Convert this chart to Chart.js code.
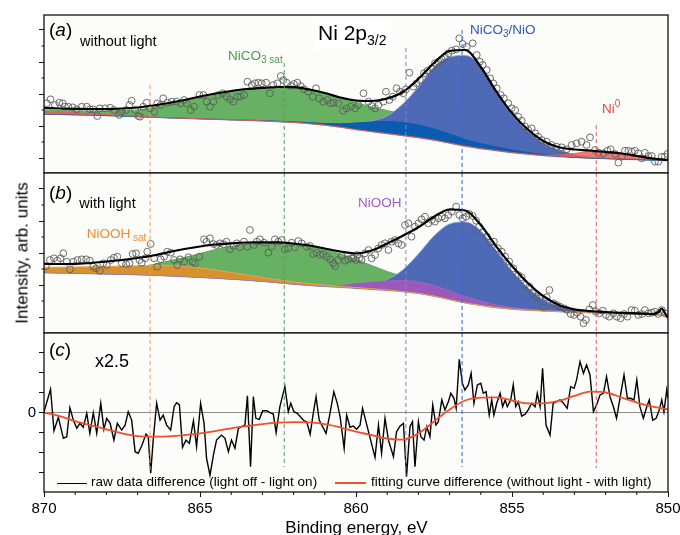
<!DOCTYPE html>
<html><head><meta charset="utf-8">
<script src="https://cdn.jsdelivr.net/npm/chart.js@4.4.1/dist/chart.umd.min.js"></script>
<style>
html,body{margin:0;padding:0;background:#fff;}
#wrap{position:relative;width:680px;height:535px;overflow:hidden;font-family:"Liberation Sans",Arial,sans-serif;color:#000;}
canvas{position:absolute;left:0;}
.lbl{position:absolute;white-space:nowrap;line-height:1;}
.sb{position:relative;}
</style></head><body>
<div id="wrap">
<canvas id="cA" width="680" height="174" style="top:0px"></canvas>
<canvas id="cB" width="680" height="162" style="top:172px"></canvas>
<canvas id="cC" width="680" height="203" style="top:332px"></canvas>

<div class="lbl" style="left:49px;top:20px;font-size:19px">(<i>a</i>)</div>
<div class="lbl" style="left:80px;top:34.4px;font-size:14.5px">without light</div>
<div class="lbl" style="left:315px;top:20px;font-size:21px;background:#fff;padding:2px 4px 6px 3px">Ni 2p<span class="sb" style="font-size:14px;top:5px">3/2</span></div>
<div class="lbl" style="left:228px;top:48.6px;font-size:13.5px;color:#4a9a4a">NiCO<span class="sb" style="font-size:10px;top:3px">3 sat</span></div>
<div class="lbl" style="left:470px;top:23px;font-size:13.5px;color:#2d58c0">NiCO<span class="sb" style="font-size:10px;top:3px">3</span>/NiO</div>
<div class="lbl" style="left:602px;top:102px;font-size:13.5px;color:#e8473b">Ni<span class="sb" style="font-size:10px;top:-6px">0</span></div>

<div class="lbl" style="left:49px;top:183px;font-size:19px">(<i>b</i>)</div>
<div class="lbl" style="left:79.3px;top:196px;font-size:14.5px">with light</div>
<div class="lbl" style="left:86.7px;top:227px;font-size:13.5px;color:#f28a2e">NiOOH<span class="sb" style="font-size:10px;top:3px"> sat</span></div>
<div class="lbl" style="left:358px;top:196.3px;font-size:13.5px;color:#a35cc4">NiOOH</div>

<div class="lbl" style="left:49px;top:339.5px;font-size:19px">(<i>c</i>)</div>
<div class="lbl" style="left:95px;top:352px;font-size:18px">x2.5</div>

<div style="position:absolute;left:57px;top:482.5px;width:30px;border-top:1.5px solid #000"></div>
<div class="lbl" style="left:91px;top:475.3px;font-size:13.5px">raw data difference (light off - light on)</div>
<div style="position:absolute;left:335px;top:482.3px;width:31px;border-top:2px solid #f0502a"></div>
<div class="lbl" style="left:371px;top:475.3px;font-size:13.5px">fitting curve difference (without light - with light)</div>

<div class="lbl" style="left:22px;top:253px;font-size:17px;transform:translate(-50%,-50%) rotate(-90deg)">Intensity, arb. units</div>
<div class="lbl" style="left:356.5px;top:519px;font-size:17px;transform:translateX(-50%)">Binding energy, eV</div>
</div>

<script>
// ---------- shared energy grid (eV) ----------
const energyGrid = [870,869.5,869,868.5,868,867.5,867,866.5,866,865.5,865,864.5,864,863.5,863,862.5,862,861.5,861,860.5,860,859.5,859,858.5,858,857.5,857,856.5,856,855.5,855,854.5,854,853.5,853,852.5,852,851.5,851,850.5,850];

// ---------- panel (a): without light ----------
const bgA    = [5.9,5.87,5.83,5.8,5.75,5.7,5.65,5.58,5.53, 5.48,5.43,5.38,5.33,5.28,5.22,5.15,5.07, 4.95,4.8,4.6,4.35,4.15,3.95,3.75,3.55, 3.3,3.0,2.7,2.45,2.25,2.05,1.9,1.75, 1.65,1.57,1.5,1.45,1.4,1.35,1.3,1.25];
const fitA   = [6.5,6.45,6.42,6.4,6.4,6.45,6.55,6.75,7.0, 7.3,7.65,7.95,8.2,8.4,8.52,8.6,8.58, 8.35,8.0,7.55,7.25,7.2,7.45,8.1,9.4, 11.0,12.2,12.3,10.6,8.13,5.97,4.37,3.2, 2.57,2.35,2.25,2.1,1.95,1.7,1.45,1.3];
const greenA = [6.3,6.25,6.2,6.2,6.2,6.25,6.3,6.55,6.85, 7.15,7.5,7.8,8.1,8.3,8.45,8.55,8.55, 8.3,7.95,7.5,7.05,6.6,6.25,5.9,5.5, 5.0,4.5,4.0,3.5,3.0,2.6,2.25,1.95, 1.75,1.6,1.5,1.45,1.4,1.35,1.3,1.25];
const lblueA = [5.9,5.87,5.83,5.8,5.75,5.7,5.65,5.58,5.53, 5.48,5.43,5.38,5.33,5.28,5.22,5.15,5.07, 4.95,4.8,4.6,4.6,5.2,5.7,6.9,8.6, 10.6,11.6,11.75,10.7,8.1,5.8,4.2,3.0, 2.3,1.85,1.6,1.47,1.4,1.35,1.3,1.25];
const dblueA = [5.9,5.87,5.83,5.8,5.75,5.7,5.65,5.58,5.53, 5.48,5.43,5.38,5.33,5.28,5.25,5.18,5.12, 5.04,4.95,4.92,5.0,5.1,5.15,5.05,4.8, 4.4,3.9,3.35,2.95,2.6,2.3,2.05,1.85, 1.7,1.57,1.5,1.45,1.4,1.35,1.3,1.25];
const redA   = [6.15,6.1,6.02,5.94,5.86,5.78,5.7,5.58,5.53, 5.48,5.43,5.38,5.33,5.28,5.22,5.15,5.07, 4.95,4.8,4.6,4.35,4.15,3.95,3.75,3.55, 3.3,3.0,2.7,2.45,2.25,2.05,1.9,1.77, 1.8,1.95,2.15,2.15,2.0,1.75,1.52,1.35];
const circAE = [869.91,869.79,869.65,869.51,869.40,869.33,869.22,869.08,868.95,868.79,868.63,868.53,868.42,868.29,868.21,868.04,867.88,867.76,867.59,867.51,867.37,867.26,867.19,867.08,866.98,866.92,866.82,866.71,866.60,866.47,866.37,866.26,866.18,866.04,865.91,865.75,865.62,865.51,865.43,865.30,865.19,865.02,864.89,864.79,864.68,864.57,864.41,864.27,864.15,864.04,863.93,863.80,863.70,863.59,863.48,863.34,863.24,863.13,863.02,862.88,862.76,862.65,862.52,862.41,862.33,862.22,862.09,861.99,861.88,861.77,861.67,861.53,861.39,861.28,861.18,861.05,860.92,860.81,860.71,860.57,860.41,860.30,860.17,860.03,859.93,
  859.76,859.60,859.50,859.39,859.28,859.12,859.04,858.93,858.82,858.70,858.59,858.48,858.40,858.29,858.16,858.06,857.95,857.82,857.71,857.57,857.47,857.36,857.25,857.15,857.04,856.93,856.79,856.69,856.58,856.45,856.26,856.13,856.03,855.94,855.81,855.70,855.60,855.49,855.36,855.26,855.12,855.01,854.90,854.80,854.69,854.58,854.48,854.37,854.26,854.16,854.05,853.89,853.73,853.57,853.41,853.25,853.09,852.93,852.77,852.61,852.50,852.34,852.23,852.07,851.94,851.84,851.70,851.59,851.48,851.38,851.27,851.16,851.06,850.95,850.84,850.74,850.63,850.52,850.42,850.31,850.20,850.10,850.02];
const circAI = [6.97,7.37,6.8,7.03,6.97,6.63,6.63,6.57,6.37,6.63,6.63,6.37,6.37,5.7,6.47,6.47,6.53,6.3,5.8,6.13,6.3,6.8,7.23,6.3,5.7,5.63,6.63,7.03,6.47,6.13,6.97,6.8,7.47,7.03,7.13,7.13,6.97,7.3,6.97,6.3,6.63,7.8,7.8,7.13,6.63,7.13,7.8,7.97,7.63,7.37,7.13,7.63,7.63,7.8,9.13,8.8,8.97,9.03,8.97,9.03,7.97,8.8,8.97,9.7,9.3,9.03,8.7,8.9,9.03,8.7,8.37,8.13,7.63,8.47,7.47,7.13,7.3,6.97,7.03,6.97,6.23,6.47,6.63,6.47,6.8,
  7.97,7.13,6.7,6.47,6.8,7.13,8.13,7.3,7.63,8.47,8.13,7.97,8.37,10.03,8.63,8.97,9.3,9.97,10.23,10.47,10.97,11.13,11.37,11.63,11.97,12.23,12.37,13.47,12.9,12.63,12.97,11.8,11.13,10.8,10.3,9.47,8.97,8.47,7.8,7.47,6.97,6.47,6.3,5.63,5.23,4.63,4.3,4.47,3.97,3.63,3.3,3.13,2.8,2.63,2.57,2.37,2.8,2.97,3.13,2.8,3.57,2.3,2.03,1.97,2.23,2.37,1.9,1.03,1.63,2.23,2.23,2.13,2.23,1.97,1.47,2.03,1.7,1.7,1.13,1.13,1.63,1.63,1.9];

// ---------- panel (b): with light ----------
const bgB     = [6.05,6.02,5.99,5.96,5.92,5.88,5.84,5.79,5.73, 5.66,5.58,5.5,5.4,5.3,5.18,5.04,4.9, 4.78,4.67,4.58,4.48,4.38,4.27,4.15,3.97, 3.7,3.35,3.02,2.77,2.55,2.4,2.3,2.22, 2.15,2.1,2.05,2.0,1.95,1.9,1.85,1.8];
const fitEnergiesB = [870,869.5,869,868.5,868,867.5,867,866.5,866,865.5,865,864.5,864,863.5,863,862.5,862,861.5,861,860.5,860,859.5,859,858.5,858,857.5,857,856.5,856,855.5,855,854.5,854,853.5,853,852.5,852,851.5,851,850.5,850.3,850.2,850.1,850];
const fitB    = [6.9,6.9,6.92,7.0,7.15,7.3,7.5,7.75,8.1, 8.4,8.65,8.85,8.97,9.05,9.07,9.07,8.95, 8.75,8.45,8.15,7.95,8.25,8.95,9.73,10.57, 11.63,12.35,12.25,10.8,8.63,6.7,5.03,3.7, 2.8,2.37,2.2,2.1,2.02,1.96,1.9,2.1,2.45,2.0,1.5];
const greenB  = [6.05,6.02,5.99,5.96,5.92,5.88,6.5,6.85,7.2, 7.55,7.95,8.35,8.65,8.85,8.97,9.0,8.92, 8.7,8.35,7.9,7.35,6.75,6.15,5.65,5.2, 4.75,4.25,3.75,3.3,2.95,2.7,2.5,2.35, 2.25,2.15,2.05,2.0,1.95,1.9,1.85,1.8];
const orangeB = [6.57,6.58,6.6,6.62,6.64,6.67,6.72,6.77,6.75, 6.65,6.5,6.3,6.05,5.8,5.55,5.32,5.1, 4.93,4.78,4.66,4.54,4.43,4.31,4.15,3.97, 3.7,3.35,3.02,2.77,2.55,2.4,2.3,2.22, 2.15,2.1,2.05,2.0,1.95,1.9,1.85,1.8];
const purpleB = [6.05,6.02,5.99,5.96,5.92,5.88,5.84,5.79,5.73, 5.66,5.58,5.5,5.4,5.3,5.18,5.04,4.9, 4.78,4.7,4.75,4.95,5.1,5.2,5.25,5.1, 4.75,4.2,3.65,3.2,2.8,2.55,2.38,2.25, 2.15,2.1,2.05,2.0,1.95,1.9,1.85,1.8];
const lblueB  = [6.05,6.02,5.99,5.96,5.92,5.88,5.84,5.79,5.73, 5.66,5.58,5.5,5.4,5.3,5.18,5.04,4.9, 4.78,4.67,4.58,4.55,4.7,5.35,6.3,7.9, 9.7,10.9,11.1,10.2,8.2,6.2,4.55,3.35, 2.7,2.35,2.15,2.02,1.95,1.9,1.85,1.8];
const circBE = [869.94,869.81,869.68,869.57,869.47,869.38,869.27,869.17,869.06,868.93,868.79,868.65,868.53,868.42,868.33,868.21,868.10,867.99,867.86,867.76,867.65,867.51,867.37,867.26,867.16,867.05,866.94,866.87,866.76,866.69,866.58,866.47,866.37,866.26,866.15,866.05,865.94,865.83,865.73,865.64,865.51,865.37,865.24,865.16,865.02,864.87,864.79,864.68,864.57,864.47,864.36,864.25,864.15,864.04,863.93,863.82,863.72,863.59,863.48,863.40,863.27,863.18,863.08,862.95,862.81,862.70,862.60,862.49,862.38,862.28,862.17,862.06,861.96,861.85,861.74,861.58,861.47,861.37,861.26,861.15,861.05,860.94,860.83,860.73,860.67,860.57,860.46,860.35,860.25,860.14,860.00,859.89,
  860.08,859.96,859.82,859.71,859.60,859.50,859.39,859.28,859.18,859.07,858.96,858.86,858.75,858.64,858.54,858.43,858.32,858.22,858.11,858.00,857.90,857.79,857.68,857.57,857.47,857.36,857.25,857.15,857.04,856.93,856.79,856.69,856.58,856.47,856.37,856.26,856.15,856.05,855.94,855.81,855.70,855.58,855.45,855.33,855.22,855.09,854.96,854.80,854.69,854.58,854.44,854.34,854.23,854.12,853.99,853.89,853.80,853.67,853.57,853.46,853.33,853.23,853.12,853.01,852.91,852.80,852.71,852.63,852.52,852.41,852.31,852.20,852.09,851.99,851.88,851.75,851.64,851.52,851.41,851.30,851.17,851.06,850.95,850.84,850.74,850.63,850.52,850.42,850.31,850.20,850.10];
const circBI = [6.7,7.3,7.47,7.23,7.47,7.97,7.13,6.37,7.13,7.3,7.37,7.37,7.23,6.63,6.47,6.23,6.97,6.8,7.3,7.53,7.63,6.97,6.9,6.97,7.9,7.97,7.3,7.03,7.47,8.13,8.9,7.47,6.63,7.37,7.63,8.13,8.03,7.3,6.8,7.37,7.13,7.57,7.13,6.97,7.63,9.37,9.13,9.47,8.9,8.8,8.97,8.87,9.13,8.37,8.7,8.97,8.57,9.13,8.63,10.3,8.8,9.13,9.37,9.03,8.03,8.63,9.37,9.13,9.3,8.37,8.47,9.03,8.57,9.2,8.97,8.63,8.7,7.9,8.03,7.8,7.87,7.63,7.37,6.97,6.7,7.3,7.7,7.23,7.37,7.47,7.3,7.47,
  7.47,7.8,7.3,7.97,8.3,7.47,7.8,8.47,8.8,8.97,8.3,9.13,9.3,8.97,8.8,10.8,10.97,9.63,10.63,10.97,11.37,11.63,10.97,11.3,11.13,11.47,11.63,11.47,11.8,12.13,12.63,11.8,11.47,11.63,11.9,11.7,11.23,10.63,10.03,9.63,9.03,9.13,8.47,8.13,7.63,7.13,6.47,5.8,5.57,4.8,4.63,3.97,3.63,3.47,2.57,3.57,4.3,2.97,2.8,2.63,2.47,2.3,1.9,1.8,2.03,1.63,0.97,1.3,2.37,2.8,2.13,1.97,2.23,1.8,1.63,1.97,1.63,1.47,1.9,1.63,2.3,2.23,1.8,1.9,2.3,1.97,2.03,2.13,1.9,2.3,1.97];

// ---------- panel (c): difference x2.5 ----------
const diffE = [870.00,869.79,869.68,869.54,869.38,869.27,869.17,869.06,868.95,868.85,868.74,868.63,868.53,868.42,868.31,868.18,868.08,867.99,867.88,867.76,867.65,867.51,867.40,867.30,867.19,867.08,866.98,866.87,866.73,866.66,866.58,866.50,866.39,866.28,866.18,866.07,865.94,865.83,865.75,865.66,865.56,865.45,865.34,865.21,865.11,864.98,864.87,864.79,864.68,864.57,864.47,864.31,864.20,864.09,863.99,863.88,863.77,863.66,863.56,863.48,863.38,863.29,863.21,863.10,862.99,862.86,862.76,862.65,862.56,862.44,862.28,862.17,862.09,861.99,861.88,861.77,861.67,861.58,861.47,861.37,861.28,861.18,861.07,860.96,860.85,860.71,860.60,860.51,860.38,860.30,860.19,860.09,859.98,
  859.87,859.79,859.60,859.39,859.28,859.18,859.07,858.96,858.80,858.70,858.59,858.48,858.38,858.27,858.19,858.11,858.00,857.92,857.82,857.73,857.63,857.54,857.44,857.36,857.25,857.15,857.04,856.96,856.86,856.79,856.69,856.59,856.51,856.40,856.31,856.22,856.11,856.00,855.92,855.83,855.73,855.65,855.58,855.49,855.38,855.30,855.22,855.15,855.04,854.96,854.88,854.80,854.69,854.58,854.48,854.37,854.26,854.19,854.10,854.02,853.91,853.78,853.68,853.57,853.46,853.35,853.23,853.12,853.01,852.93,852.82,852.71,852.61,852.50,852.39,852.29,852.18,852.07,851.97,851.86,851.75,851.65,851.54,851.41,851.30,851.20,851.09,851.00,850.90,850.79,850.68,850.60,850.49,850.38,850.28,850.20,850.13,850.04,850.00];
const diffV = [0.04,1.16,-0.91,-0.24,-1.29,-1.21,0.24,-0.38,-0.79,-0.54,-0.74,-0.04,-1.04,-0.01,-1.04,0.46,-0.84,-0.29,-0.54,-1.38,-0.54,-0.88,-0.63,0.04,-0.38,-1.96,-2.04,-1.68,-1.08,-1.21,-3.04,-1.38,0.46,-0.38,-0.13,-0.63,-0.88,0.29,0.49,0.38,-1.74,-1.38,-1.54,-0.41,-1.71,0.46,-0.54,-2.29,-3.13,-2.13,-1.38,-1.13,-1.29,-1.96,-1.38,-1.79,-0.79,-0.71,-0.63,0.83,-2.71,0.79,-0.29,-0.34,0.09,0.09,-0.01,-0.08,-1.01,0.29,1.29,0.04,0.46,0.04,-0.04,-0.24,-0.41,-0.46,-1.09,-0.04,0.79,-0.38,-0.71,-1.04,-0.18,1.04,0.46,-0.21,-1.79,-0.13,-0.74,-0.68,-0.84,
  -0.63,0.21,-0.96,-2.24,-0.63,-2.04,-0.29,-1.38,-2.21,-0.96,-0.68,-0.54,-3.21,-0.71,-0.46,-2.71,-0.46,-1.21,-1.38,-0.71,-1.21,0.38,-0.63,-0.46,0.63,0.13,0.54,0.96,0.71,0.21,2.66,1.46,1.13,1.38,1.96,0.46,1.38,1.46,0.96,1.04,-0.13,0.63,-0.13,0.46,0.96,0.29,0.63,0.29,0.63,1.38,0.29,0.54,-0.18,-0.08,0.13,0.46,0.29,0.96,0.29,2.21,-0.63,-1.13,0.46,0.54,0.63,0.46,0.21,1.29,1.21,1.63,2.54,1.96,2.38,1.88,0.04,0.38,0.88,0.96,1.79,0.79,0.29,-0.29,0.71,1.88,0.71,0.71,0.63,1.63,0.29,-0.29,0.29,0.63,-0.38,-0.29,0.13,0.63,0.04,1.13,0.71];
const fitDiff = [0.0,-0.18,-0.43,-0.64,-0.84,-1.04,-1.18,-1.21,-1.19, -1.13,-1.04,-0.93,-0.79,-0.68,-0.58,-0.51,-0.48, -0.49,-0.58,-0.74,-0.96,-1.13,-1.3,-1.36,-1.05, -0.45,0.15,0.6,0.74,0.76,0.6,0.46,0.46, 0.58,0.83,1.04,1.0,0.76,0.49,0.29,0.16];
const zeroLineE = [870, 850];
const zeroLineV = [0, 0];

// ---------- reference lines and ticks ----------
const markerE      = [866.6, 862.3, 858.4, 856.6, 852.3];
const markerColors = ['#f39a5a', '#5c985c', '#8282cc', '#2f62d6', '#e65a50'];
const markerTopA   = [8.8, 11.0, 12.5, 14.3, 4.8];
const markerBotC   = [-3.03, -2.73, -3.2, -2.73, -2.78];
const yMajorA = [1.5, 4.7, 7.9, 11.1, 14.3];
const yMinorA = [3.1, 6.3, 9.5, 12.7];
const yMajorB = [1.6, 4.8, 8.0, 11.2, 14.4];
const yMinorB = [3.2, 6.4, 9.6, 12.8];
const yTicksC = [-3, -2, -1, 0, 1, 2, 3];
const xMajor  = [870, 865, 860, 855, 850];
const xMinor  = [869, 868, 867, 866, 864, 863, 862, 861, 859, 858, 857, 856, 854, 853, 852, 851];

Chart.defaults.font.family = '"Liberation Sans", Arial, sans-serif';
Chart.defaults.color = '#000';

const pts = (xs, ys) => xs.map((x, i) => ({x: x, y: ys[i]}));
const at = (v, i) => Array.isArray(v) ? v[i] : v;

function markers(top, bot) {
  return markerE.map((e, i) => ({
    data: [{x: e, y: at(top, i)}, {x: e, y: at(bot, i)}],
    borderColor: markerColors[i], borderWidth: 1, borderDash: [4, 3],
    pointRadius: 0, fill: false, tension: 0
  }));
}
function curve(xs, ys, o) {
  return Object.assign({data: pts(xs, ys), pointRadius: 0, borderWidth: 1, fill: false,
    cubicInterpolationMode: 'monotone'}, o);
}
function circles(xs, ys) {
  return {data: pts(xs, ys), showLine: false, pointRadius: 3.4, pointBorderWidth: 0.9,
    pointBorderColor: '#5c5c5c', pointBackgroundColor: 'rgba(0,0,0,0)', borderColor: '#5c5c5c', fill: false};
}

const panelFrame = {
  id: 'panelFrame',
  beforeDraw(chart) {
    const {ctx, chartArea: a} = chart;
    ctx.save();
    ctx.fillStyle = '#fcfcfa';
    ctx.fillRect(a.left, a.top, a.right - a.left, a.bottom - a.top);
    ctx.restore();
  },
  afterDraw(chart, args, opts) {
    const {ctx, chartArea: a, scales} = chart;
    ctx.save();
    ctx.strokeStyle = '#111';
    ctx.lineWidth = 1.3;
    ctx.strokeRect(a.left, a.top, a.right - a.left, a.bottom - a.top);
    ctx.lineWidth = 1;
    (opts.minorY || []).forEach(v => {
      const y = scales.y.getPixelForValue(v);
      ctx.beginPath(); ctx.moveTo(a.left - 2.5, y); ctx.lineTo(a.left, y); ctx.stroke();
    });
    (opts.minorX || []).forEach(v => {
      const x = scales.x.getPixelForValue(v);
      ctx.beginPath(); ctx.moveTo(x, a.bottom); ctx.lineTo(x, a.bottom + 3); ctx.stroke();
    });
    ctx.restore();
  }
};

function yScale(min, max, majors, labelled) {
  return {
    type: 'linear', min: min, max: max, position: 'left',
    afterFit: s => { s.width = 44; s.paddingTop = 0; s.paddingBottom = 0; },
    afterBuildTicks: s => { s.ticks = majors.map(v => ({value: v})); },
    ticks: labelled ? {display: true, autoSkip: false, padding: 3, font: {size: 15},
      callback: v => (v === 0 ? '0' : '')} : {display: false},
    grid: {drawOnChartArea: false, drawTicks: true, tickLength: 5, tickColor: '#111', tickWidth: 1},
    border: {display: false}
  };
}
const hiddenX = {type: 'linear', min: 850, max: 870, reverse: true, display: false};
const shownX = {
  type: 'linear', min: 850, max: 870, reverse: true, position: 'bottom',
  afterFit: s => { s.height = 43; s.paddingLeft = 0; s.paddingRight = 0; },
  afterBuildTicks: s => { s.ticks = xMajor.map(v => ({value: v})); },
  ticks: {autoSkip: false, maxRotation: 0, padding: 3, font: {size: 15}, callback: v => String(v)},
  grid: {drawOnChartArea: false, drawTicks: true, tickLength: 5, tickColor: '#111'},
  border: {display: false}
};
function options(x, y, padding, minorY, minorX) {
  return {
    responsive: false, animation: false, events: [],
    layout: {padding: padding, autoPadding: false},
    plugins: {legend: {display: false}, tooltip: {enabled: false}, panelFrame: {minorY: minorY, minorX: minorX}},
    scales: {x: x, y: y}
  };
}

// panel (a): index 11 = background
new Chart(document.getElementById('cA'), {
  type: 'line',
  data: {datasets: [
    ...markers(markerTopA, 0),
    curve(energyGrid, fitA, {borderColor: '#000', borderWidth: 2.2}),
    circles(circAE, circAI),
    curve(energyGrid, redA,   {borderColor: 'rgba(236,92,82,0.9)', backgroundColor: 'rgba(238,92,82,0.82)', fill: 11}),
    curve(energyGrid, dblueA, {borderColor: '#0b5aae', backgroundColor: '#0a5cb2', fill: 11}),
    curve(energyGrid, lblueA, {borderColor: '#8fa3d6', backgroundColor: '#4e69b5', fill: 11}),
    curve(energyGrid, greenA, {borderColor: '#5aa85a', backgroundColor: '#67b262', fill: 11}),
    curve(energyGrid, bgA,    {borderColor: '#8a8a8a', borderWidth: 1.5})
  ]},
  options: options(hiddenX, yScale(0, 15.8, yMajorA, false), {top: 15, bottom: 1, left: 0, right: 12}, yMinorA, []),
  plugins: [panelFrame]
});

// panel (b): index 11 = background
new Chart(document.getElementById('cB'), {
  type: 'line',
  data: {datasets: [
    ...markers(16, 0),
    curve(fitEnergiesB, fitB, {borderColor: '#000', borderWidth: 2.2}),
    circles(circBE, circBI),
    curve(energyGrid, orangeB, {borderColor: '#f0a050', backgroundColor: '#d6922f', fill: 11}),
    curve(energyGrid, purpleB, {borderColor: '#a064c4', backgroundColor: '#9b5ab9', fill: 11}),
    curve(energyGrid, lblueB,  {borderColor: '#8fa3d6', backgroundColor: '#4e69b5', fill: 11}),
    curve(energyGrid, greenB,  {borderColor: '#5aa85a', backgroundColor: '#67b262', fill: 11}),
    curve(energyGrid, bgB,     {borderColor: '#8a8a8a', borderWidth: 1.5})
  ]},
  options: options(hiddenX, yScale(0, 16, yMajorB, false), {top: 1, bottom: 1, left: 0, right: 12}, yMinorB, []),
  plugins: [panelFrame]
});

// panel (c)
new Chart(document.getElementById('cC'), {
  type: 'line',
  data: {datasets: [
    ...markers(3.975, markerBotC),
    curve(energyGrid, fitDiff, {borderColor: '#f0502a', borderWidth: 1.8}),
    {data: pts(diffE, diffV), borderColor: '#000', borderWidth: 1.4, pointRadius: 0, fill: false, tension: 0},
    {data: pts(zeroLineE, zeroLineV), borderColor: '#8c8c8c', borderWidth: 1, pointRadius: 0, fill: false}
  ]},
  options: options(shownX, yScale(-3.975, 3.975, yTicksC, true), {top: 1, bottom: 0, left: 0, right: 12}, [], xMinor),
  plugins: [panelFrame]
});
</script>
</body></html>
